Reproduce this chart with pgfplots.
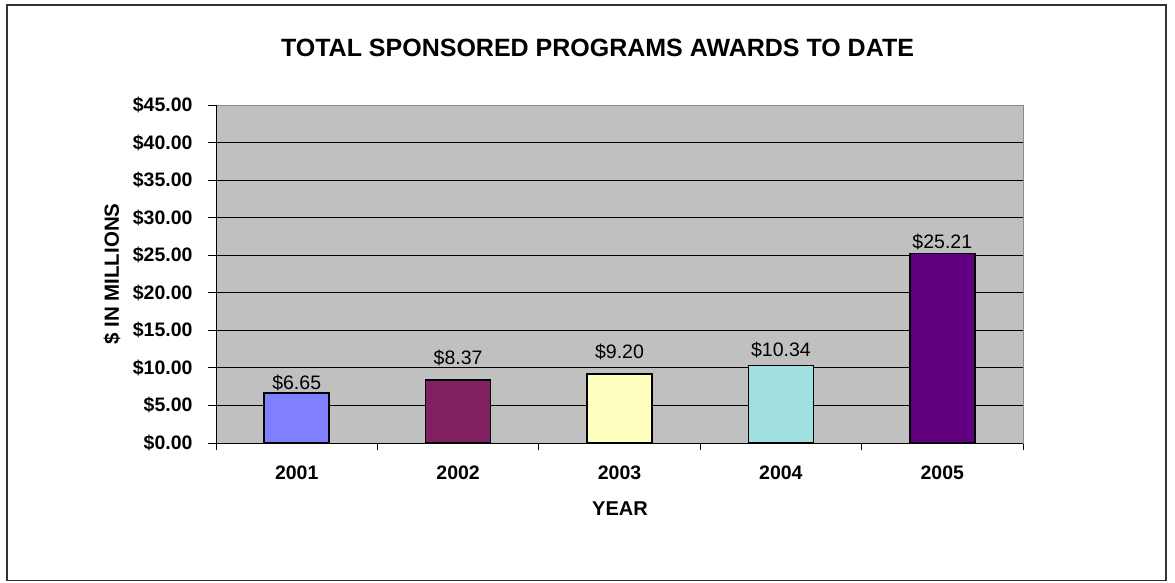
\documentclass[border=0pt]{standalone}
\usepackage{pgfplots}
\pgfplotsset{compat=1.18}
\usepackage{fontspec}
\setmainfont{Liberation Sans}
\definecolor{bgray}{HTML}{C0C0C0}
\definecolor{c1}{HTML}{8080FF}
\definecolor{c2}{HTML}{802060}
\definecolor{c3}{HTML}{FFFFC0}
\definecolor{c4}{HTML}{A0E0E0}
\definecolor{c5}{HTML}{600080}
\begin{document}
\begin{tikzpicture}[x=1pt,y=1pt]
\path[use as bounding box] (0,0) rectangle (1175,582);
\draw[line width=1.5pt, black!80] (7,1.5) rectangle (1166,577);
\node[font=\fontsize{25}{30}\selectfont\bfseries] at (597.5,534) {TOTAL SPONSORED PROGRAMS AWARDS TO DATE};
\node[font=\fontsize{20}{24}\selectfont\bfseries] at (620,73) {YEAR};
\node[font=\fontsize{20.5}{24}\selectfont\bfseries, rotate=90] at (112,308) {\$ IN MILLIONS};
\begin{axis}[
  at={(216pt,139pt)}, anchor=south west,
  scale only axis, width=807pt, height=338pt,
  xmin=-0.5, xmax=4.5, ymin=0, ymax=45,
  /pgf/number format/assume math mode=true,
  axis background/.style={fill=bgray},
  axis line style={draw=black!45, line width=1pt},
  tick pos=left, tick align=outside,
  xtick={0,1,2,3,4},
  xticklabels={2001,2002,2003,2004,2005},
  major x tick style={draw=none},
  minor xtick={-0.5,0.5,1.5,2.5,3.5,4.5},
  minor tick length=7pt,
  minor x tick style={black, line width=0.8pt},
  ytick={0,5,...,45},
  major tick length=8pt,
  major y tick style={black, line width=0.8pt},
  yticklabel={\$\pgfmathprintnumber[fixed,fixed zerofill,precision=2]{\tick}},
  ticklabel style={font=\fontsize{19.5}{23}\selectfont\bfseries},
  yticklabel style={xshift=-12pt},
  xticklabel style={yshift=-11pt},
  ymajorgrids, grid style={black, line width=0.8pt},
  nodes near coords={\$\pgfmathprintnumber[fixed,fixed zerofill,precision=2]{\pgfplotspointmeta}},
  nodes near coords style={font=\fontsize{19.5}{23}\selectfont, anchor=south, inner sep=3pt, black},
]
\addplot[ybar, bar shift=0pt, bar width=65pt, fill=c1, draw=black, line width=1.5pt,
  every node near coord/.append style={yshift=-1.5pt}] coordinates {(0,6.65)};
\addplot[ybar, bar shift=0pt, bar width=65pt, fill=c2, draw=black, line width=1.5pt,
  every node near coord/.append style={yshift=11pt}] coordinates {(1,8.37)};
\addplot[ybar, bar shift=0pt, bar width=65pt, fill=c3, draw=black, line width=1.5pt,
  every node near coord/.append style={yshift=10pt}] coordinates {(2,9.20)};
\addplot[ybar, bar shift=0pt, bar width=65pt, fill=c4, draw=black, line width=1.5pt,
  every node near coord/.append style={yshift=3.5pt}] coordinates {(3,10.34)};
\addplot[ybar, bar shift=0pt, bar width=65pt, fill=c5, draw=black, line width=1.5pt] coordinates {(4,25.21)};
\draw[black, line width=1pt] (rel axis cs:0,0) -- (rel axis cs:0,1);
\draw[black, line width=1pt] (rel axis cs:0,0) -- (rel axis cs:1,0);
\end{axis}
\end{tikzpicture}
\end{document}
